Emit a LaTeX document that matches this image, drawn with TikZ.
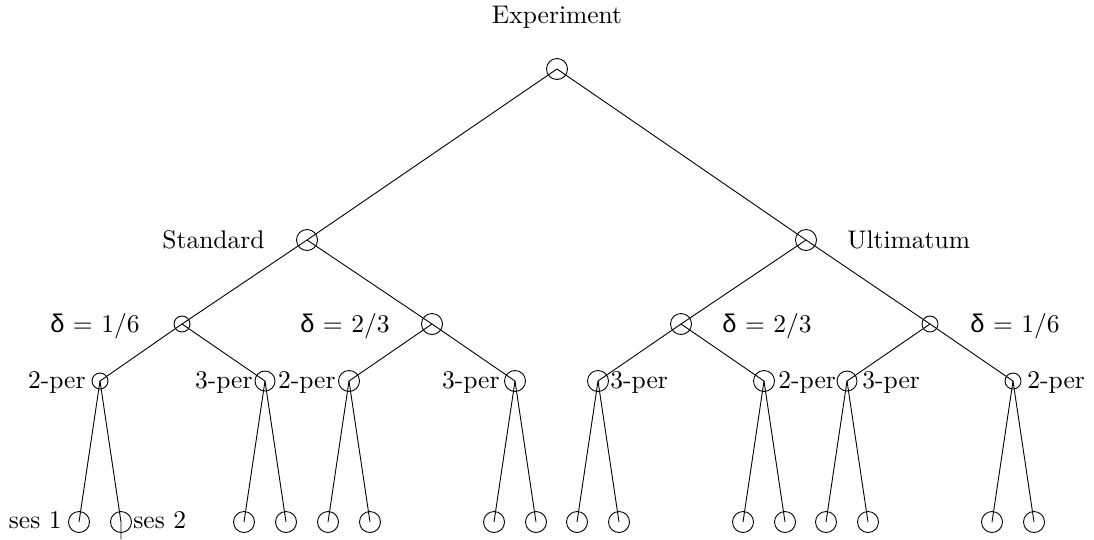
\documentclass[tikz,border=0pt]{standalone}
\usepackage{fontspec}
\setmainfont{lmroman10-regular.otf}
\newfontfamily\grk{Liberation Sans}
\begin{document}
\begin{tikzpicture}[x=1pt,y=-1pt,line width=0.9pt,
  nd/.style={circle,draw,inner sep=0pt,minimum size=#1},
  nd/.default=21pt,
  lbl/.style={inner sep=0pt,font=\fontsize{25.5}{30}\selectfont}]
\useasboundingbox (0,0) rectangle (1094,539);
% tree nodes
\node[nd] (r) at (557,69) {};
\node[nd] (s) at (307,240) {};
\node[nd] (u) at (806,240) {};
\node[nd=16pt] (s1) at (182,324) {};
\node[nd] (s2) at (432,324) {};
\node[nd] (u2) at (681,324) {};
\node[nd=16pt] (u1) at (930,324) {};
\node[nd=16pt] (a) at (100,381) {};
\node[nd=20pt] (b) at (265,381) {};
\node[nd] (c) at (349,381) {};
\node[nd] (d) at (515,381) {};
\node[nd] (e) at (598,381) {};
\node[nd] (f) at (764,381) {};
\node[nd=20pt] (g) at (847,381) {};
\node[nd=16pt] (h) at (1013,381) {};
\foreach \n/\x in {a/100,b/265,c/349,d/515,e/598,f/764,g/847,h/1013}{
  \node[nd] (\n1) at (\x-21,522) {};
  \node[nd] (\n2) at (\x+21,522) {};
}
\coordinate (tick) at (121,539);
% connectors
\draw (r.center) -- (s.center);
\draw (r.center) -- (u.center);
\draw (s.center) -- (s1.center);
\draw (s.center) -- (s2.center);
\draw (u.center) -- (u2.center);
\draw (u.center) -- (u1.center);
\draw (s1.center) -- (a.center);
\draw (s1.center) -- (b.center);
\draw (s2.center) -- (c.center);
\draw (s2.center) -- (d.center);
\draw (u2.center) -- (e.center);
\draw (u2.center) -- (f.center);
\draw (u1.center) -- (g.center);
\draw (u1.center) -- (h.center);
\foreach \n in {b,c,d,e,f,g,h}{
  \draw (\n.center) -- (\n1.center);
  \draw (\n.center) -- (\n2.center);
}
\draw (a.center) -- (a1.center);
\draw (a.center) -- (a2.center) -- (tick);
% labels
\node[lbl,anchor=base] (lexp) at (557,23) {Experiment};
\node[lbl,anchor=base east] (lstd) at (265,248) {Standard};
\node[lbl,anchor=base west] (lult) at (847,248) {Ultimatum};
\node[lbl,anchor=base east] (ld1) at (140,332) {{\grk δ} = 1/6};
\node[lbl,anchor=base east] (ld2) at (390,332) {{\grk δ} = 2/3};
\node[lbl,anchor=base west] (ld3) at (722,332) {{\grk δ} = 2/3};
\node[lbl,anchor=base west] (ld4) at (970,332) {{\grk δ} = 1/6};
\node[lbl,anchor=base east] (la) at (86,388) {2-per};
\node[lbl,anchor=base east] (lb) at (253,388) {3-per};
\node[lbl,anchor=base east] (lc) at (336,388) {2-per};
\node[lbl,anchor=base east] (ld) at (500,388) {3-per};
\node[lbl,anchor=base west] (le) at (610,388) {3-per};
\node[lbl,anchor=base west] (lf) at (778,388) {2-per};
\node[lbl,anchor=base west] (lg) at (862,388) {3-per};
\node[lbl,anchor=base west] (lh) at (1027,388) {2-per};
\node[lbl,anchor=base east] (ls1) at (62,528) {ses 1};
\node[lbl,anchor=base west] (ls2) at (133,528) {ses 2};
\end{tikzpicture}
\end{document}
